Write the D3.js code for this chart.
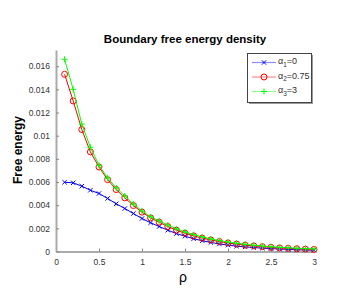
<!DOCTYPE html>
<html>
<head>
<meta charset="utf-8">
<script src="https://cdn.jsdelivr.net/npm/d3@7"></script>
<style>
body { margin: 0; background: #fff; }
text { font-family: "Liberation Sans", Arial, sans-serif; }
</style>
</head>
<body>
<script>
let rho = [0.1, 0.2, 0.3, 0.4, 0.5, 0.6, 0.7, 0.8, 0.9, 1.0, 1.1, 1.2, 1.3, 1.4, 1.5,
    1.6, 1.7, 1.8, 1.9, 2.0, 2.1, 2.2, 2.3, 2.4, 2.5, 2.6, 2.7, 2.8, 2.9, 3.0];
let alpha0 = [0.00598, 0.00593, 0.00564, 0.00529, 0.00501, 0.00458, 0.00412, 0.00371, 0.00328, 0.00285,
    0.00248, 0.00216, 0.00184, 0.00155, 0.00132, 0.0011, 0.00093, 0.00078, 0.00065, 0.00055,
    0.00046, 0.0004, 0.00034, 0.00029, 0.00025, 0.00021, 0.00018, 0.00015, 0.00013, 0.00011];
let alpha075 = [0.0153, 0.0130, 0.01053, 0.0086, 0.0073, 0.0062, 0.00535, 0.00463, 0.00397, 0.0034,
    0.0029, 0.00253, 0.00215, 0.00184, 0.00158, 0.00135, 0.00116, 0.001, 0.00086, 0.00074,
    0.00064, 0.00055, 0.00048, 0.00042, 0.00036, 0.00031, 0.00027, 0.00024, 0.00021, 0.00018];
let alpha3 = [0.0166, 0.0140, 0.0110, 0.0090, 0.00745, 0.00636, 0.0055, 0.0048, 0.0041, 0.0035,
    0.0030, 0.00265, 0.00228, 0.00196, 0.00169, 0.00146, 0.00126, 0.00109, 0.00094, 0.00082,
    0.00071, 0.00062, 0.00054, 0.00047, 0.00041, 0.00036, 0.00032, 0.00028, 0.00025, 0.00022];
let xTicks = [0, 0.5, 1, 1.5, 2, 2.5, 3];
let yTicks = [0, 0.002, 0.004, 0.006, 0.008, 0.01, 0.012, 0.014, 0.016];
let seriesNames = ["1", "2", "3"];
let seriesValues = ["0", "0.75", "3"];

let series = [
    {sub: seriesNames[0], val: seriesValues[0], data: alpha0, color: "#0000ff", marker: "x"},
    {sub: seriesNames[1], val: seriesValues[1], data: alpha075, color: "#ff0000", marker: "o"},
    {sub: seriesNames[2], val: seriesValues[2], data: alpha3, color: "#00ff00", marker: "+"}
];

let svg = d3.select("body").append("svg").attr("width", 354).attr("height", 308);

let x = d3.scaleLinear().domain([0, 3]).range([56, 314]);
let y = d3.scaleLinear().domain([0, 0.0174]).range([251.5, 50]);

// axes
let xAxis = svg.append("g").attr("transform", "translate(0,251.5)")
    .call(d3.axisBottom(x).tickValues(xTicks).tickSizeInner(-3).tickSizeOuter(0).tickPadding(7)
        .tickFormat(d => String(d)));
let yAxis = svg.append("g").attr("transform", "translate(56,0)")
    .call(d3.axisLeft(y).tickValues(yTicks).tickSizeInner(-3).tickSizeOuter(0).tickPadding(6)
        .tickFormat(d => String(+d.toFixed(3))));
[xAxis, yAxis].forEach(function(a) {
    a.select(".domain").attr("stroke", "#aaaaaa").attr("stroke-width", 2);
    a.selectAll(".tick line").attr("stroke", "#888888");
    a.selectAll(".tick text").attr("fill", "#333333").attr("font-size", 8.5)
        .style("font-family", "'Liberation Sans', Arial, sans-serif");
});

let line = d3.line().x((d, i) => x(rho[i])).y(d => y(d));

function drawMarker(g, type, cx, cy, color) {
    if (type == "o") {
        g.append("circle").attr("cx", cx).attr("cy", cy).attr("r", 3)
            .attr("fill", "none").attr("stroke", color).attr("stroke-width", 1);
    } else if (type == "x") {
        let s = 2.2;
        g.append("path").attr("d", `M${cx - s},${cy - s}L${cx + s},${cy + s}M${cx - s},${cy + s}L${cx + s},${cy - s}`)
            .attr("stroke", color).attr("stroke-width", 1);
    } else {
        let s = 3;
        g.append("path").attr("d", `M${cx - s},${cy}L${cx + s},${cy}M${cx},${cy - s}L${cx},${cy + s}`)
            .attr("stroke", color).attr("stroke-width", 1);
    }
}

series.forEach(function(s) {
    let g = svg.append("g");
    g.append("path").datum(s.data).attr("d", line).attr("fill", "none")
        .attr("stroke", s.color).attr("stroke-width", 1);
    s.data.forEach(function(v, i) {
        drawMarker(g, s.marker, x(rho[i]), y(v), s.color);
    });
});

// title and labels
svg.append("text").attr("x", 185).attr("y", 43).attr("text-anchor", "middle")
    .attr("font-size", 11.5).attr("font-weight", "bold").text("Boundary free energy density");
svg.append("text").attr("transform", "translate(22,150) rotate(-90)").attr("text-anchor", "middle")
    .attr("font-size", 12).attr("font-weight", "bold").text("Free energy");
svg.append("text").attr("x", 183).attr("y", 282).attr("text-anchor", "middle")
    .attr("font-size", 14).text("ρ");

// legend
let legend = svg.append("g");
legend.append("rect").attr("x", 249).attr("y", 55).attr("width", 64).attr("height", 49).attr("fill", "#999999");
legend.append("rect").attr("x", 247.5).attr("y", 53.5).attr("width", 64).attr("height", 49)
    .attr("fill", "#ffffff").attr("stroke", "#444444").attr("stroke-width", 1);
series.forEach(function(s, i) {
    let ly = 62.5 + i * 14.5;
    legend.append("line").attr("x1", 252).attr("x2", 276).attr("y1", ly).attr("y2", ly)
        .attr("stroke", s.color).attr("stroke-opacity", 0.45).attr("stroke-width", 1.2);
    drawMarker(legend, s.marker, 264, ly, s.color);
    let t = legend.append("text").attr("x", 278).attr("y", ly + 1.5).attr("font-size", 9).attr("fill", "#333333");
    t.append("tspan").text("α");
    t.append("tspan").attr("dy", 2.5).attr("font-size", 6.5).text(s.sub);
    t.append("tspan").attr("dy", -2.5).text("=" + s.val);
});
</script>
</body>
</html>
